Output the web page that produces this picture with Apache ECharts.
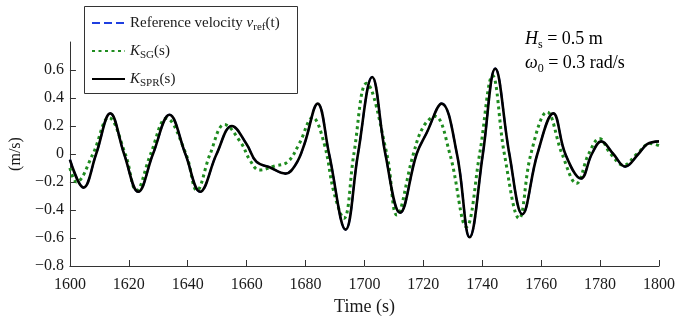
<!DOCTYPE html>
<html>
<head>
<meta charset="utf-8">
<script src="https://cdn.jsdelivr.net/npm/echarts@6/dist/echarts.min.js"></script>
<style>html,body{margin:0;padding:0;background:#fff}#c{width:678px;height:322px}</style>
</head>
<body>
<div id="c"></div>
<script>
// ---- data ----
var sprTime = [1600,1604.6,1608.9,1613.7,1618.4,1623.2,1628.2,1633.8,1639.2,1644.2,1649.8,1655,1660,1663.3,1667.8,1673.2,1676.8,1679.6,1684.1,1688,1693.6,1697.8,1702.6,1707.1,1712.1,1717.7,1721.1,1726.2,1731.4,1735.7,1740.2,1744.4,1749.2,1753.6,1758.7,1764.1,1768.2,1773.5,1777.2,1780.4,1784.5,1788.5,1793,1796,1800];
var sprValues = [-0.04,-0.24,0,0.29,0,-0.27,0,0.28,0,-0.27,0,0.2,0.07,-0.055,-0.095,-0.14,-0.07,0.07,0.36,0,-0.54,0,0.55,0,-0.42,0,0.15,0.36,0,-0.595,0,0.61,0,-0.43,0,0.29,0,-0.175,0,0.09,0,-0.09,0,0.07,0.09];
var sgTime = [1600,1602.2,1607.8,1613.2,1618.8,1622.6,1627.4,1632.8,1639.4,1643.1,1647.6,1652.5,1658.2,1661,1664.4,1669.5,1674,1677.9,1682.4,1686.3,1689.7,1693,1696.4,1700.7,1707.6,1711,1716.6,1720,1723.9,1729,1734.6,1739.1,1743.5,1747.5,1752.5,1756.5,1762,1767.1,1772,1776.1,1779.8,1783.6,1788,1792.5,1797,1800];
var sgValues = [-0.1,-0.2,0,0.26,0,-0.26,0,0.255,0,-0.26,0,0.21,0.076,-0.04,-0.115,-0.086,-0.055,0.076,0.26,0.076,-0.28,-0.46,0,0.505,0,-0.436,0,0.195,0.27,0,-0.52,0,0.56,0,-0.46,0,0.30,0,-0.21,0,0.11,0,-0.08,0,0.075,0.06];
// reference velocity lies underneath the K_SPR curve in the picture
var refTime = sprTime;
var refValues = sprValues;
var xTicks = [1600,1620,1640,1660,1680,1700,1720,1740,1760,1780,1800];
var yTicks = [-0.8,-0.6,-0.4,-0.2,0,0.2,0.4,0.6];

function pairs(t, v){ return t.map(function(x,i){ return [x, v[i]]; }); }

var FONT = 'Liberation Serif';
var TXT = '#1a1a1a';
var chart = echarts.init(document.getElementById('c'), null, {renderer:'canvas'});

var legendText = {
  ref: '{n|Reference velocity }{i|v}{sub|ref}{n|(t)}',
  sg: '{i|K}{sub|SG}{n|(s)}',
  spr: '{i|K}{sub|SPR}{n|(s)}'
};
var rich = {
  n: {fontFamily: FONT, fontSize: 15, color: TXT, verticalAlign: 'middle', lineHeight: 20},
  i: {fontFamily: FONT, fontSize: 15, fontStyle: 'italic', color: TXT, verticalAlign: 'middle', lineHeight: 20},
  sub: {fontFamily: FONT, fontSize: 11, color: TXT, padding: [9,0,0,0], verticalAlign: 'middle', lineHeight: 12}
};

chart.setOption({
  animation: false,
  backgroundColor: '#fff',
  grid: {left: 67, right: 18, top: 42, bottom: 56, containLabel: false},
  xAxis: {
    type: 'value', min: 1600, max: 1800, interval: 20,
    name: 'Time (s)', nameLocation: 'middle', nameGap: 32,
    nameTextStyle: {fontFamily: FONT, fontSize: 18, color: TXT},
    axisLine: {show: true, onZero: false, lineStyle: {color: '#333', width: 1}},
    axisTick: {show: true, inside: true, length: 6, lineStyle: {color: '#333'}, customValues: xTicks},
    axisLabel: {fontFamily: FONT, fontSize: 16, color: TXT, margin: 11, customValues: xTicks,
      formatter: function(v){ return String(v); }},
    splitLine: {show: false}
  },
  yAxis: {
    type: 'value', min: -0.8, max: 0.8, interval: 0.2,
    name: '(m/s)', nameLocation: 'middle', nameGap: 42, nameRotate: 90,
    nameTextStyle: {fontFamily: FONT, fontSize: 16, color: TXT},
    axisLine: {show: true, onZero: false, lineStyle: {color: '#333', width: 1}},
    axisTick: {show: true, inside: true, length: 6, lineStyle: {color: '#333'}, customValues: yTicks},
    axisLabel: {fontFamily: FONT, fontSize: 16, color: TXT, margin: 6, customValues: yTicks,
      formatter: function(v){ if (Math.abs(v) < 1e-9) return '0'; var s = v.toFixed(1); return s.replace('-', '\u2212'); }},
    splitLine: {show: false}
  },
  legend: {
    orient: 'vertical', left: 91, top: 13, padding: 0,
    itemWidth: 33, itemHeight: 14, itemGap: 8,
    data: ['ref','sg','spr'],
    formatter: function(name){ return legendText[name]; },
    itemStyle: {opacity: 0},
    textStyle: {fontFamily: FONT, fontSize: 15, color: TXT, rich: rich},
    selectedMode: false
  },
  graphic: [
    {type: 'rect', left: 84, top: 6, shape: {width: 213, height: 87}, style: {fill: 'rgba(0,0,0,0)', stroke: '#333', lineWidth: 1}, z: 10},
    {type: 'text', left: 525, top: 27, z: 10, style: {
      text: '{i|H}{sub|s}{n| = 0.5 m}\n{i|\u03c9}{sub|0}{n| = 0.3 rad/s}',
      rich: {
        n: {fontFamily: FONT, fontSize: 18, color: TXT, verticalAlign: 'middle', lineHeight: 24},
        i: {fontFamily: FONT, fontSize: 18, fontStyle: 'italic', color: TXT, verticalAlign: 'middle', lineHeight: 24},
        sub: {fontFamily: FONT, fontSize: 12, color: TXT, padding: [12,0,0,0], verticalAlign: 'middle', lineHeight: 13}
      }
    }}
  ],
  series: [
    {name: 'ref', type: 'line', data: pairs(refTime, refValues), smooth: 0.4, showSymbol: false, symbol: 'none',
     lineStyle: {color: '#1f3fe0', width: 2, type: [8,4]}, itemStyle: {color: '#1f3fe0'}, z: 1},
    {name: 'sg', type: 'line', data: pairs(sgTime, sgValues), smooth: 0.4, showSymbol: false, symbol: 'none',
     lineStyle: {color: '#1f8c1f', width: 3, type: [3,3.5]}, itemStyle: {color: '#1f8c1f'}, z: 2},
    {name: 'spr', type: 'line', data: pairs(sprTime, sprValues), smooth: 0.4, showSymbol: false, symbol: 'none',
     lineStyle: {color: '#000', width: 2.6}, itemStyle: {color: '#000'}, z: 3}
  ]
});
</script>
</body>
</html>
